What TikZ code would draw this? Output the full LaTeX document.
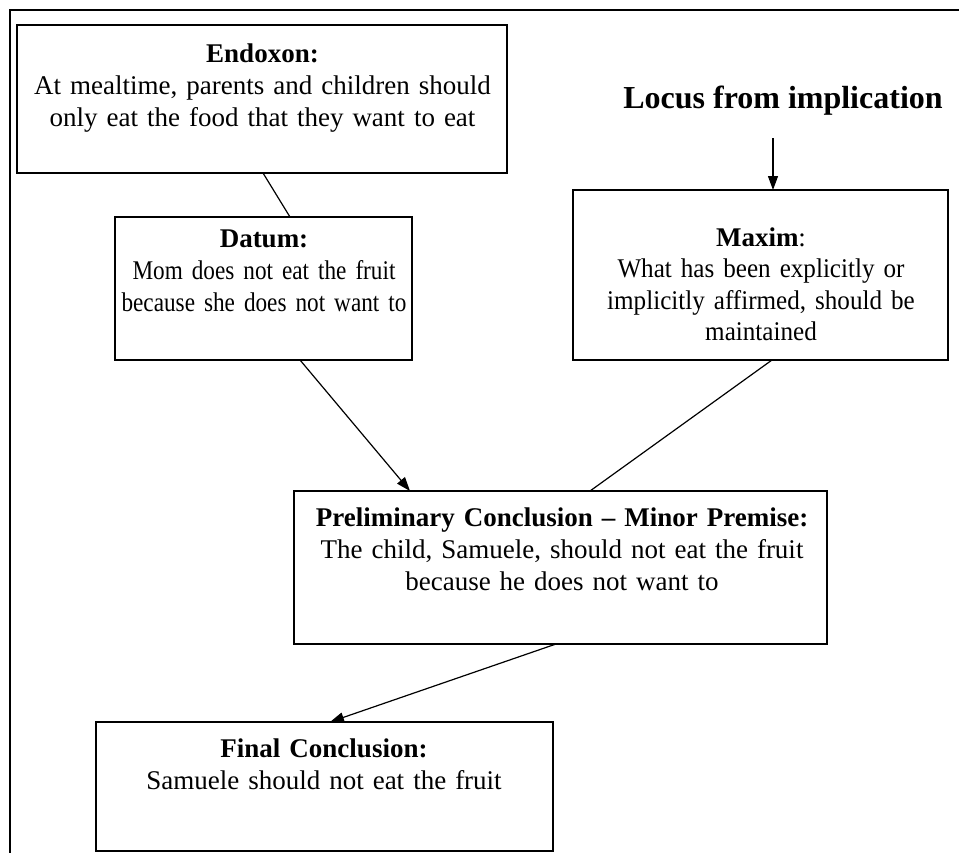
\documentclass[tikz,border=0pt]{standalone}
\usepackage{fontspec}
\setmainfont{Liberation Serif}
\newfontfamily\datumfont[FakeStretch=0.86]{Liberation Serif}
\newfontfamily\maximfont[FakeStretch=0.93]{Liberation Serif}
\usetikzlibrary{arrows.meta}

\begin{document}
\begin{tikzpicture}[x=1pt, y=-1pt,
        box/.style={draw, line width=1.6pt, inner sep=0pt, outer sep=0pt},
        txt/.style={anchor=base, align=center, text width=#1, inner sep=0pt,
            font=\fontsize{27}{32}\selectfont},
        conn/.style={line width=1.2pt},
        arr/.style={line width=1.2pt, -{Triangle[length=14pt,width=10pt]}}]
        \useasboundingbox (0,0) rectangle (959,852);
        \draw [line width=2.2pt] (10,870) -- (10,10) -- (975,10);

        % the boxes
        \node [box, minimum width=490pt, minimum height=148pt] (endoxon) at (262,99) {};
        \node [box, minimum width=297pt, minimum height=143pt] (datum) at (263.5,288.5) {};
        \node [box, minimum width=375pt, minimum height=170pt] (maxim) at (760.5,275) {};
        \node [box, minimum width=533pt, minimum height=153pt] (prelim) at (560.5,567.5) {};
        \node [box, minimum width=457pt, minimum height=129pt] (final) at (324.5,786.5) {};

        % the texts
        \node [txt=480pt] (endoxontext) at (262.5,62) {\textbf{Endoxon:}\\At mealtime, parents and children should\\only eat the food that they want to eat};
        \node [txt=290pt] (datumtext) at (264,247) {\textbf{Datum:}\\\datumfont Mom does not eat the fruit\\\datumfont because she does not want to};
        \node [txt=365pt, font=\fontsize{27}{31.5}\selectfont] (maximtext) at (761,246) {\textbf{Maxim}:\\\maximfont What has been explicitly or\\\maximfont implicitly affirmed, should be\\\maximfont maintained};
        \node [txt=525pt] (prelimtext) at (562,526) {\textbf{Preliminary Conclusion -- Minor Premise:}\\The child, Samuele, should not eat the fruit\\because he does not want to};
        \node [txt=445pt] (finaltext) at (324,757) {\textbf{Final Conclusion:}\\Samuele should not eat the fruit};
        \node [anchor=base, inner sep=0pt, font=\fontsize{32}{38}\selectfont\bfseries] (locus) at (783,108) {Locus from implication};

        % the connectors
        \draw [conn] ([xshift=1pt]endoxon.south) -- ([xshift=26.5pt]datum.north);
        \draw [arr] ([xshift=-10pt,yshift=-23pt]locus.south) -- ([xshift=12.5pt]maxim.north);
        \draw [arr] ([xshift=36.5pt]datum.south) -- ([xshift=-150.5pt]prelim.north);
        \draw [conn] ([xshift=11.5pt]maxim.south) -- ([xshift=29.5pt]prelim.north);
        \draw [arr] ([xshift=-4.5pt]prelim.south) -- ([xshift=5.5pt]final.north);
\end{tikzpicture}
\end{document}
